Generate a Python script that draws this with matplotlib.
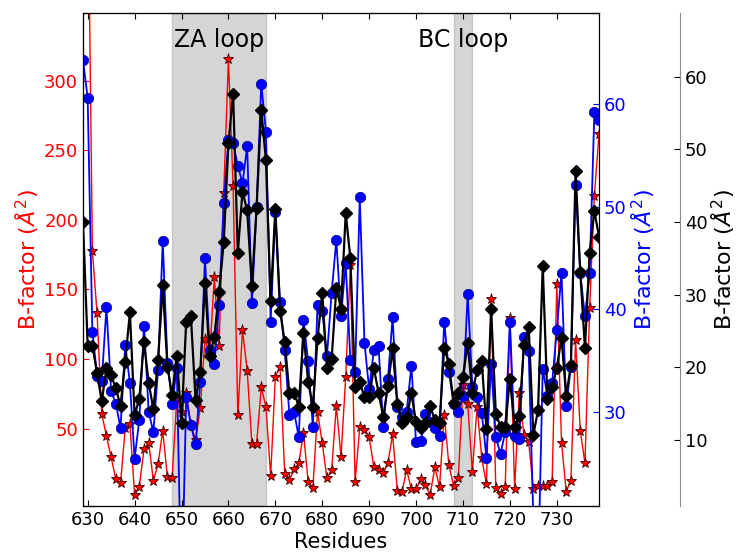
import matplotlib
matplotlib.use('Agg')
import matplotlib.pyplot as plt

# residue numbers (x) and the three B-factor profiles
residues = list(range(629, 740))

bf_red = [520, 465, 177.8, 132.8, 60.4, 44.6, 29.3, 13.5, 10.6, 50.1,
          53.2, 2.2, 8.2, 35.0, 39.8, 12.5, 24.5, 48.4, 14.9, 14.2,
          71.9, 62.1, 75.3, 52.5, 41.7, 64.5, 114.1, 102.8, 158.7, 109.3,
          219.1, 315.4, 224.3, 59.7, 120.8, 91.6, 38.9, 38.9, 79.6, 65.7,
          15.8, 87.2, 94.4, 17.3, 13.0, 20.7, 25.0, 47.0, 11.7, 7.0,
          62.1, 39.4, 14.2, 20.2, 66.4, 29.7, 86.8, 167.5, 11.7, 50.9,
          48.9, 43.7, 22.5, 20.2, 17.8, 25.0, 46.0, 5.3, 4.6, 20.2,
          6.3, 6.3, 13.5, 9.4, 2.2, 22.1, 8.2, 59.7, 23.7, 8.7,
          14.2, 81.3, 67.6, 18.9, 65.7, 28.6, 10.1, 142.9, 7.0, 2.9,
          8.2, 129.4, 6.3, 75.7, 45.3, 40.5, 6.3, 8.7, 8.7, 8.7,
          11.7, 153.9, 39.8, 4.6, 12.5, 113.6, 48.4, 25.0, 136.4, 217.0,
          262.0]

bf_blue = [64.3, 60.6, 37.8, 33.5, 33.0, 40.2, 32.0, 30.8, 28.4, 36.5,
           32.8, 25.4, 29.2, 38.4, 30.0, 28.0, 34.1, 46.7, 34.8, 30.8,
           34.3, 11.0, 31.4, 28.7, 26.8, 32.9, 45.0, 36.0, 34.7, 40.4,
           50.4, 56.5, 56.2, 54.0, 52.3, 55.9, 40.6, 50.0, 62.0, 57.3,
           38.8, 49.5, 40.7, 36.0, 29.7, 30.0, 27.5, 38.9, 34.9, 28.5,
           40.4, 39.8, 35.4, 41.6, 46.75, 39.3, 44.5, 35.0, 33.9, 50.9,
           36.7, 32.2, 36.0, 36.4, 28.5, 33.2, 39.2, 30.5, 29.5, 30.0,
           34.5, 27.0, 27.1, 29.8, 29.0, 28.4, 27.6, 38.8, 33.9, 30.8,
           30.0, 31.5, 41.5, 32.4, 31.4, 29.9, 25.5, 34.7, 27.5, 25.9,
           28.0, 38.8, 27.6, 27.3, 37.3, 35.9, 19.5, 14.0, 34.2, 31.5,
           32.8, 38.0, 43.5, 30.6, 34.4, 52.1, 43.5, 39.3, 43.5, 59.2,
           58.5]

bf_black = [40.0, 23.0, 23.0, 19.2, 15.3, 19.9, 18.9, 17.1, 14.7, 20.8,
            27.6, 13.4, 15.7, 23.5, 17.9, 14.2, 21.0, 31.3, 20.1, 16.2,
            21.6, 12.3, 26.3, 27.0, 15.5, 19.4, 31.6, 21.5, 24.2, 30.4,
            37.2, 50.85, 57.7, 35.8, 44.2, 41.6, 31.2, 41.9, 55.5, 48.5,
            29.1, 41.8, 27.8, 23.5, 16.4, 16.5, 14.6, 24.7, 18.0, 14.6,
            24.0, 30.2, 19.9, 21.1, 30.9, 28.1, 41.2, 35.0, 17.3, 18.0,
            15.9, 15.9, 19.9, 16.5, 13.2, 17.4, 22.6, 15.0, 12.3, 13.2,
            16.4, 12.4, 11.6, 12.3, 14.7, 12.7, 12.3, 22.7, 20.5, 15.1,
            16.4, 18.7, 23.3, 16.5, 19.6, 20.9, 11.5, 28.0, 13.6, 11.8,
            11.8, 18.4, 11.8, 13.3, 23.1, 25.6, 10.7, 14.1, 34.0, 15.7,
            17.3, 19.9, 24.1, 16.0, 20.3, 47.0, 33.1, 22.6, 35.8, 41.5,
            38.0]

loops = [('ZA loop', 648, 668), ('BC loop', 708, 712)]

plt.rcParams['xtick.direction'] = 'in'
plt.rcParams['ytick.direction'] = 'in'

fig = plt.figure(figsize=(7.39, 5.53), dpi=100)
ax1 = fig.add_axes([0.1123, 0.085, 0.6983, 0.8915])
ax2 = ax1.twinx()
ax3 = ax1.twinx()
ax3.spines['right'].set_position(('axes', 1.157))
ax3.spines['right'].set_color('#8c8c8c')

for name, start, end in loops:
    ax1.axvspan(start, end, color='gray', alpha=0.33, zorder=0)
    ax1.text((start + end) / 2.0, 0.945, name, fontsize=17,
             ha='center', va='center', transform=ax1.get_xaxis_transform())

ax1.plot(residues, bf_red, '-', color='red', lw=1.0, marker='*',
         markersize=8, markerfacecolor='red', markeredgecolor='#400000',
         markeredgewidth=0.6)
ax2.plot(residues, bf_blue, '-', color='blue', lw=1.3, marker='o',
         markersize=7.5, markerfacecolor='blue', markeredgecolor='#000080',
         markeredgewidth=0.5)
ax3.plot(residues, bf_black, '-', color='black', lw=1.6, marker='D',
         markersize=6.5, markerfacecolor='black', markeredgecolor='black')

ax1.set_xlim(629, 739)
ax1.set_ylim(-5.7, 348.7)
ax2.set_ylim(20.8, 68.9)
ax3.set_ylim(0.9, 68.8)

ax1.set_xticks(range(630, 731, 10))
ax1.set_yticks(range(50, 301, 50))
ax2.set_yticks(range(30, 61, 10))
ax3.set_yticks(range(10, 61, 10))

ax1.tick_params(axis='x', top=True, labelsize=13, length=4)
ax1.tick_params(axis='y', colors='red', labelsize=13, length=4)
ax2.tick_params(axis='y', colors='blue', labelsize=13, length=4)
ax3.tick_params(axis='y', colors='black', labelsize=13, length=4)

ax1.set_xlabel('Residues', fontsize=15, labelpad=2)
ax1.set_ylabel(r'B-factor ($\AA^2$)', color='red', fontsize=16, labelpad=2)
ax2.set_ylabel(r'B-factor ($\AA^2$)', color='blue', fontsize=16, labelpad=2)
ax3.set_ylabel(r'B-factor ($\AA^2$)', color='black', fontsize=16, labelpad=1)

plt.savefig('out.png', dpi=100)
